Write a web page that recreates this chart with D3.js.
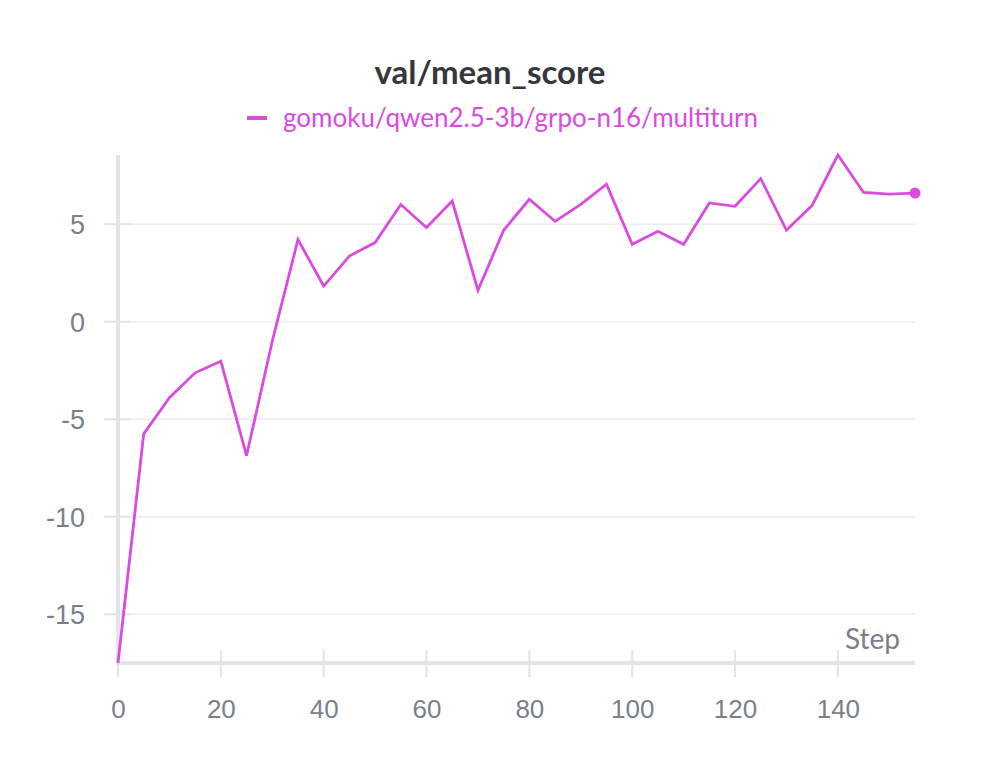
<!DOCTYPE html>
<html>
<head>
<meta charset="utf-8">
<script src="https://cdn.jsdelivr.net/npm/d3@7"></script>
<style>
  html, body { margin: 0; padding: 0; background: #fff; }
  svg { display: block; font-family: Lato, "Noto Sans", sans-serif; }
</style>
</head>
<body>
<svg id="chart" width="996" height="770"></svg>
<script>
const title = "val/mean_score";
const seriesName = "gomoku/qwen2.5-3b/grpo-n16/multiturn";
const steps = [0,5,10,15,20,25,30,35,40,45,50,55,60,65,70,75,80,85,90,95,100,105,110,115,120,125,130,135,140,145,150,155];
const scores = [-17.5,-5.75,-3.9,-2.62,-2.02,-6.87,-1.0,4.21,1.83,3.37,4.06,6.01,4.83,6.19,1.61,4.69,6.28,5.15,6.02,7.05,3.97,4.64,3.97,6.09,5.92,7.34,4.69,5.97,8.55,6.63,6.54,6.6];
const xTicks = [0,20,40,60,80,100,120,140];
const yTicks = [-15,-10,-5,0,5];
const xLabel = "Step";

const color = "#da4be0";
const tickColor = "#7b7f8c";
const svg = d3.select("#chart");
const L = 118, R = 915, T = 155, B = 663;

const x = d3.scaleLinear().domain([0, 155]).range([L, R]);
const y = d3.scaleLinear().domain(d3.extent(scores)).range([B, T]);

// gridlines
svg.append("g").selectAll("line").data(yTicks).join("line")
  .attr("x1", L).attr("x2", R)
  .attr("y1", d => y(d)).attr("y2", d => y(d))
  .attr("stroke", "#ececef").attr("stroke-width", 1.3);

// y axis
const yAxis = svg.append("g").attr("transform", `translate(${L},0)`)
  .call(d3.axisLeft(y).tickValues(yTicks).tickSize(0).tickPadding(33).tickFormat(d => String(d)));
yAxis.select(".domain").remove();
yAxis.selectAll("text").attr("fill", tickColor).attr("font-size", 27).attr("dy", "0.35em");
svg.append("g").selectAll("line").data(yTicks).join("line")
  .attr("x1", L - 14).attr("x2", L + 13)
  .attr("y1", d => y(d)).attr("y2", d => y(d))
  .attr("stroke", "#e4e4e8").attr("stroke-width", 2);
svg.append("line").attr("x1", L).attr("x2", L).attr("y1", T).attr("y2", B + 2)
  .attr("stroke", "#e4e4e8").attr("stroke-width", 4);

// x axis
const xAxis = svg.append("g").attr("transform", `translate(0,${B})`)
  .call(d3.axisBottom(x).tickValues(xTicks).tickSize(0).tickPadding(37));
xAxis.select(".domain").remove();
xAxis.selectAll("text").attr("fill", tickColor).attr("font-size", 26);
svg.append("g").selectAll("line").data(xTicks).join("line")
  .attr("x1", d => x(d)).attr("x2", d => x(d))
  .attr("y1", B - 13).attr("y2", B + 14)
  .attr("stroke", "#e4e4e8").attr("stroke-width", 2);
svg.append("line").attr("x1", L - 2).attr("x2", R).attr("y1", B).attr("y2", B)
  .attr("stroke", "#e4e4e8").attr("stroke-width", 4);

svg.append("text").attr("x", 900).attr("y", 649).attr("text-anchor", "end")
  .attr("fill", tickColor).attr("font-size", 28).text(xLabel);

// line
const line = d3.line().x((d, i) => x(steps[i])).y(d => y(d));
svg.append("path").datum(scores).attr("d", line)
  .attr("fill", "none").attr("stroke", color).attr("stroke-width", 2.8)
  .attr("stroke-linejoin", "miter");
svg.append("circle").attr("cx", x(steps[steps.length - 1])).attr("cy", y(scores[scores.length - 1]))
  .attr("r", 5.5).attr("fill", color);

// title
svg.append("text").attr("x", 490).attr("y", 84).attr("text-anchor", "middle")
  .attr("font-size", 33).attr("font-weight", "bold").attr("fill", "#35373d").text(title);

// legend
const lg = svg.append("g");
lg.append("line").attr("x1", 247).attr("x2", 267).attr("y1", 118).attr("y2", 118)
  .attr("stroke", color).attr("stroke-width", 4);
lg.append("text").attr("x", 283).attr("y", 127).attr("font-size", 26)
  .attr("fill", color).text(seriesName);
</script>
</body>
</html>
